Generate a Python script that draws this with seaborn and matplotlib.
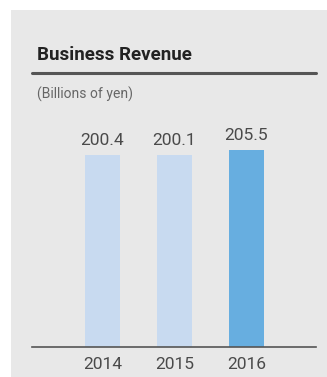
import matplotlib
matplotlib.use("Agg")
import matplotlib.pyplot as plt
from matplotlib.patches import Rectangle
from matplotlib.lines import Line2D
import seaborn as sns
import pandas as pd

# Data
years = ["2014", "2015", "2016"]
revenue = [200.4, 200.1, 205.5]
bar_colors = ["#C8DAF0", "#C8DAF0", "#67AEE0"]

W, H = 327, 377
DPI = 100

sns.set_theme(style="white")
plt.rcParams["font.family"] = ["Roboto", "DejaVu Sans"]

fig = plt.figure(figsize=(W / DPI, H / DPI), dpi=DPI)
fig.patch.set_facecolor("white")

def fx(px):
    return px / W

def fy(py):
    return 1 - py / H

# Grey panel behind the chart
fig.patches.append(Rectangle((fx(11), 0), 1 - fx(11), fy(10), transform=fig.transFigure,
                             facecolor="#E8E8E8", edgecolor="none", zorder=-10))

# Heading and rule
fig.text(fx(37), fy(55), "Business Revenue", fontsize=13.5, fontweight="bold",
         color="#222222", va="center", ha="left")
fig.lines.append(Line2D([fx(32), fx(316)], [fy(73), fy(73)], transform=fig.transFigure,
                        color="#555555", linewidth=2.2))
fig.text(fx(37), fy(94), "(Billions of yen)", fontsize=10, color="#666666",
         va="center", ha="left")

# Bar axes
ax_top, ax_bot = 100, 347
ax = fig.add_axes([fx(32), fy(ax_bot), fx(316) - fx(32), (ax_bot - ax_top) / H])
ax.set_facecolor("none")
ax.set_zorder(5)

df = pd.DataFrame({"year": years, "revenue": revenue})
sns.barplot(data=df, x="year", y="revenue", hue="year", palette=bar_colors,
            width=0.486, legend=False, ax=ax, saturation=1, linewidth=0)

px_per_unit = 0.958
ax.set_ylim(0, (ax_bot - ax_top) / px_per_unit)
ax.set_xlim(-0.979, 2.965)

for i, v in enumerate(revenue):
    ax.annotate(f"{v:.1f}", (i, v), xytext=(0, 5), textcoords="offset points",
                ha="center", va="bottom", fontsize=12.5, color="#4a4a4a")

for s in ["top", "right", "left"]:
    ax.spines[s].set_visible(False)
ax.spines["bottom"].set_color("#555555")
ax.spines["bottom"].set_linewidth(1.2)
ax.set_yticks([])
ax.set_xlabel("")
ax.set_ylabel("")
ax.tick_params(axis="x", length=0, pad=7, labelsize=12.5, labelcolor="#4a4a4a")

fig.savefig("out.png", dpi=DPI, facecolor=fig.get_facecolor())
